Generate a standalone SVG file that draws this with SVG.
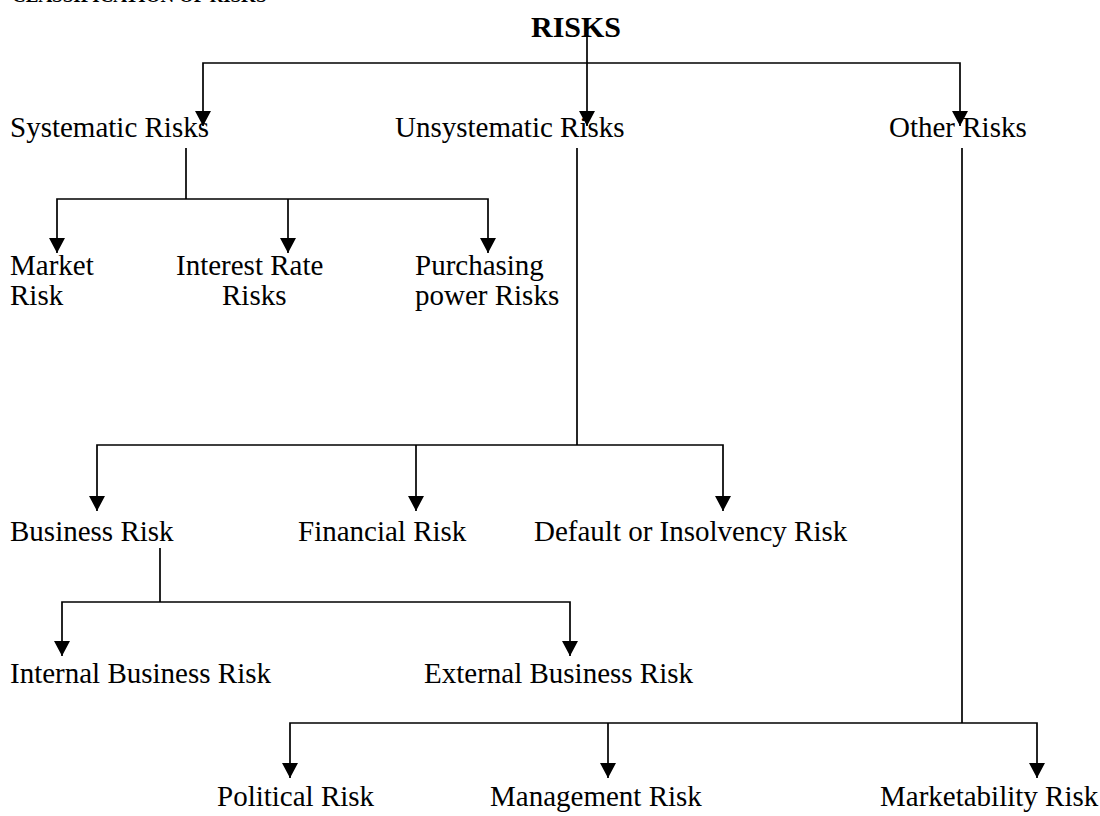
<svg xmlns="http://www.w3.org/2000/svg" width="1100" height="816" viewBox="0 0 1100 816">
<style>
.t{font-family:"Liberation Serif","Times New Roman",serif;font-size:29px;fill:#000}
.b{font-weight:bold}
.c{fill:none;stroke:#000;stroke-width:1.7}
</style>
<defs>
<marker id="ah" viewBox="0 0 15 16" markerWidth="15" markerHeight="16" refX="15" refY="8" orient="auto-start-reverse" markerUnits="userSpaceOnUse">
<path d="M0,0 L15,8 L0,16 z" fill="#000"/>
</marker>
</defs>
<rect width="1100" height="816" fill="#fff"/>
<text class="t b" x="12" y="2" style="font-size:19px">CLASSIFICATION OF RISKS</text>
<g id="connectors">
<path class="c" d="M587,26 V126" marker-end="url(#ah)"/>
<path class="c" d="M203,126 V63 H960 V126" marker-start="url(#ah)" marker-end="url(#ah)"/>
<path class="c" d="M186,148 V199"/>
<path class="c" d="M57,253 V199 H488 V253" marker-start="url(#ah)" marker-end="url(#ah)"/>
<path class="c" d="M288,199 V253" marker-end="url(#ah)"/>
<path class="c" d="M577,148 V445"/>
<path class="c" d="M97,511 V445 H723 V511" marker-start="url(#ah)" marker-end="url(#ah)"/>
<path class="c" d="M416,445 V511" marker-end="url(#ah)"/>
<path class="c" d="M160,548 V602"/>
<path class="c" d="M62,656 V602 H570 V656" marker-start="url(#ah)" marker-end="url(#ah)"/>
<path class="c" d="M962,148 V723"/>
<path class="c" d="M290,778 V723 H1037 V778" marker-start="url(#ah)" marker-end="url(#ah)"/>
<path class="c" d="M608,723 V778" marker-end="url(#ah)"/>
</g>
<g id="risks"><text class="t b" x="531" y="37" style="font-size:30px">RISKS</text></g>
<g id="systematic"><text class="t" x="10" y="137">Systematic Risks</text></g>
<g id="unsystematic"><text class="t" x="395" y="137">Unsystematic Risks</text></g>
<g id="other"><text class="t" x="889" y="137">Other Risks</text></g>
<g id="market"><text class="t" x="10" y="275">Market</text><text class="t" x="10" y="305">Risk</text></g>
<g id="interest"><text class="t" x="176" y="275">Interest Rate</text><text class="t" x="222" y="305">Risks</text></g>
<g id="purchasing"><text class="t" x="415" y="275">Purchasing</text><text class="t" x="415" y="305">power Risks</text></g>
<g id="business"><text class="t" x="10" y="541">Business Risk</text></g>
<g id="financial"><text class="t" x="298" y="541">Financial Risk</text></g>
<g id="default"><text class="t" x="534" y="541">Default or Insolvency Risk</text></g>
<g id="internal"><text class="t" x="10" y="683">Internal Business Risk</text></g>
<g id="external"><text class="t" x="424" y="683">External Business Risk</text></g>
<g id="political"><text class="t" x="217" y="806">Political Risk</text></g>
<g id="management"><text class="t" x="490" y="806">Management Risk</text></g>
<g id="marketability"><text class="t" x="880" y="806">Marketability Risk</text></g>
</svg>
